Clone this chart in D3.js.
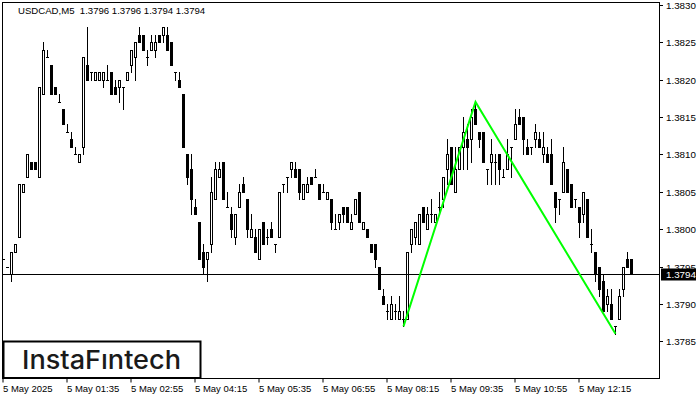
<!DOCTYPE html>
<html><head><meta charset="utf-8">
<script src="https://cdn.jsdelivr.net/npm/d3@7"></script>
<style>body{margin:0;background:#fff;overflow:hidden}svg{display:block}</style>
</head><body>
<svg id="c" width="700" height="400"></svg>
<script>
const symbol = "USDCAD,M5";
const opens = [1.3796,1.3795,1.3794,1.3797,1.3799,1.3805,1.3807,1.3809,1.3809,1.3807,
1.3818,1.3823,1.3822,1.3819,1.3817,1.3816,1.3813,1.3812,1.3810,1.3809,
1.3811,1.3822,1.3821,1.3820,1.3820,1.3820,1.3820,1.3821,1.3819,1.3819,
1.3819,1.3820,1.3822,1.3823,1.3826,1.3826,1.3823,1.3824,1.3824,1.3826,
1.3826,1.3826,1.3825,1.3821,1.3820,1.3818,1.3810,1.3808,1.3803,1.3801,
1.3797,1.3796,1.3798,1.3804,1.3807,1.3809,1.3803,1.3802,1.3799,1.3803,
1.3806,1.3804,1.3799,1.3799,1.3796,1.3801,1.3799,1.3800,1.3798,1.3799,
1.3806,1.3807,1.3808,1.3808,1.3808,1.3804,1.3805,1.3807,1.3807,1.3806,
1.3805,1.3804,1.3804,1.3800,1.3801,1.3803,1.3803,1.3800,1.3802,1.3805,
1.3800,1.3800,1.3798,1.3798,1.3795,1.3791,1.3789,1.3788,1.3789,1.3788,
1.3788,1.3788,1.3798,1.3799,1.3798,1.3803,1.3800,1.3802,1.3801,1.3803,
1.3804,1.3808,1.3811,1.3805,1.3808,1.3811,1.3812,1.3812,1.3816,1.3813,
1.3813,1.3808,1.3809,1.3809,1.3810,1.3807,1.3808,1.3811,1.3812,1.3815,
1.3815,1.3811,1.3811,1.3812,1.3812,1.3810,1.3810,1.3810,1.3805,1.3804,
1.3805,1.3808,1.3806,1.3804,1.3803,1.3802,1.3804,1.3798,1.3797,1.3795,
1.3793,1.3790,1.3790,1.3787,1.3788,1.3792,1.3796,1.3796];
const highs = [1.3796,1.3795,1.3797,1.3798,1.3806,1.3806,1.3810,1.3809,1.3809,1.3819,
1.3825,1.3824,1.3822,1.3819,1.3818,1.3816,1.3814,1.3813,1.3811,1.3810,
1.3823,1.3827,1.3821,1.3821,1.3821,1.3821,1.3822,1.3821,1.3820,1.3820,
1.3819,1.3821,1.3824,1.3825,1.3827,1.3826,1.3824,1.3826,1.3826,1.3826,
1.3827,1.3827,1.3825,1.3821,1.3821,1.3818,1.3810,1.3810,1.3804,1.3801,
1.3798,1.3797,1.3807,1.3809,1.3809,1.3809,1.3805,1.3803,1.3802,1.3806,
1.3807,1.3804,1.3802,1.3800,1.3800,1.3801,1.3800,1.3801,1.3798,1.3805,
1.3806,1.3807,1.3809,1.3809,1.3808,1.3806,1.3807,1.3807,1.3808,1.3806,
1.3806,1.3805,1.3804,1.3802,1.3802,1.3803,1.3803,1.3802,1.3804,1.3805,
1.3801,1.3800,1.3798,1.3798,1.3795,1.3792,1.3790,1.3791,1.3790,1.3791,
1.3789,1.3797,1.3800,1.3801,1.3802,1.3803,1.3803,1.3804,1.3802,1.3805,
1.3807,1.3812,1.3811,1.3811,1.3811,1.3815,1.3814,1.3816,1.3817,1.3813,
1.3813,1.3808,1.3812,1.3810,1.3810,1.3808,1.3812,1.3811,1.3816,1.3816,
1.3815,1.3812,1.3811,1.3814,1.3813,1.3813,1.3811,1.3812,1.3805,1.3804,
1.3811,1.3808,1.3806,1.3804,1.3803,1.3805,1.3804,1.3800,1.3797,1.3795,
1.3794,1.3792,1.3792,1.3787,1.3792,1.3795,1.3797,1.3796];
const lows = [1.3796,1.3795,1.3793,1.3797,1.3799,1.3805,1.3807,1.3808,1.3808,1.3807,
1.3818,1.3823,1.3818,1.3818,1.3817,1.3814,1.3813,1.3811,1.3810,1.3809,
1.3810,1.3820,1.3820,1.3820,1.3820,1.3819,1.3820,1.3818,1.3818,1.3817,
1.3816,1.3820,1.3821,1.3820,1.3825,1.3824,1.3822,1.3824,1.3823,1.3825,
1.3825,1.3824,1.3822,1.3820,1.3819,1.3811,1.3806,1.3802,1.3802,1.3796,
1.3794,1.3793,1.3797,1.3804,1.3807,1.3804,1.3803,1.3799,1.3798,1.3803,
1.3805,1.3799,1.3799,1.3797,1.3796,1.3798,1.3798,1.3799,1.3797,1.3799,
1.3805,1.3805,1.3807,1.3807,1.3804,1.3804,1.3805,1.3806,1.3807,1.3804,
1.3805,1.3804,1.3800,1.3800,1.3800,1.3801,1.3801,1.3800,1.3802,1.3801,
1.3800,1.3799,1.3797,1.3795,1.3792,1.3790,1.3788,1.3788,1.3788,1.3788,
1.3787,1.3788,1.3797,1.3798,1.3798,1.3801,1.3800,1.3801,1.3801,1.3802,
1.3803,1.3806,1.3806,1.3805,1.3808,1.3808,1.3808,1.3809,1.3814,1.3811,
1.3809,1.3806,1.3806,1.3806,1.3806,1.3807,1.3808,1.3807,1.3812,1.3814,
1.3810,1.3810,1.3810,1.3811,1.3811,1.3809,1.3809,1.3806,1.3801,1.3802,
1.3805,1.3805,1.3803,1.3803,1.3799,1.3801,1.3799,1.3797,1.3793,1.3791,
1.3789,1.3789,1.3788,1.3786,1.3788,1.3791,1.3795,1.3794];
const closes = [1.3796,1.3795,1.3797,1.3798,1.3806,1.3806,1.3810,1.3808,1.3808,1.3819,
1.3824,1.3823,1.3818,1.3818,1.3817,1.3814,1.3813,1.3811,1.3810,1.3810,
1.3823,1.3820,1.3821,1.3821,1.3821,1.3821,1.3820,1.3818,1.3818,1.3820,
1.3819,1.3821,1.3824,1.3825,1.3825,1.3824,1.3823,1.3825,1.3825,1.3825,
1.3827,1.3824,1.3822,1.3821,1.3819,1.3811,1.3807,1.3804,1.3802,1.3796,
1.3795,1.3797,1.3805,1.3808,1.3808,1.3804,1.3803,1.3800,1.3802,1.3805,
1.3805,1.3800,1.3800,1.3797,1.3800,1.3798,1.3799,1.3799,1.3798,1.3805,
1.3806,1.3807,1.3809,1.3807,1.3805,1.3806,1.3806,1.3806,1.3807,1.3804,
1.3805,1.3805,1.3801,1.3800,1.3802,1.3802,1.3801,1.3801,1.3804,1.3801,
1.3801,1.3799,1.3797,1.3796,1.3792,1.3790,1.3789,1.3790,1.3789,1.3789,
1.3788,1.3797,1.3800,1.3801,1.3802,1.3801,1.3802,1.3802,1.3802,1.3803,
1.3807,1.3810,1.3806,1.3808,1.3811,1.3813,1.3811,1.3815,1.3814,1.3812,
1.3809,1.3808,1.3810,1.3809,1.3808,1.3807,1.3810,1.3811,1.3814,1.3814,
1.3812,1.3810,1.3811,1.3813,1.3811,1.3811,1.3809,1.3806,1.3803,1.3804,
1.3809,1.3805,1.3803,1.3804,1.3801,1.3805,1.3799,1.3798,1.3794,1.3792,
1.3789,1.3791,1.3788,1.3787,1.3791,1.3795,1.3795,1.3794];
const timeTickIdx = [0,16,32,48,64,80,96,112,128,144];
const timeTickLabels = ["5 May 2025","5 May 01:35","5 May 02:55","5 May 04:15","5 May 05:35","5 May 06:55","5 May 08:15","5 May 09:35","5 May 10:55","5 May 12:15"];
const priceTicks = [1.3785,1.3790,1.3795,1.3800,1.3805,1.3810,1.3815,1.3820,1.3825,1.3830];
const patternIdx = [100,118,153];
const patternPrice = [1.3787,1.3817,1.3786];
const lastPrice = 1.3794;

const svg = d3.select("#c");
const L = 2.5, R = 659.5, T = 2.5, B = 378.5;
const y = d3.scaleLinear().domain([1.3785,1.3830]).range([341.3,4.7]);
const x = d3.scaleLinear().domain([0,1]).range([3.5,7.5]);
const py = p => Math.round(y(p)) + 0.5;
const font = "'Liberation Sans', Arial, sans-serif";

svg.append("rect").attr("x",0).attr("y",0).attr("width",700).attr("height",400).attr("fill","#fff");

const g = svg.append("g");
const n = opens.length;
const data = d3.range(n).map(i => ({i, o:opens[i], h:highs[i], l:lows[i], c:closes[i]}));

// wicks
g.selectAll("line.w").data(data).join("line")
  .attr("x1", d => x(d.i)).attr("x2", d => x(d.i))
  .attr("y1", d => py(d.h)-0.5).attr("y2", d => py(d.l)+0.5)
  .attr("stroke","#000").attr("stroke-width",1);

// bodies
data.forEach(d => {
  const yo = py(d.o), yc = py(d.c);
  const cx = x(d.i);
  if (d.o === d.c) {
    g.append("line").attr("x1",cx-1.5).attr("x2",cx+1.5).attr("y1",yo).attr("y2",yo)
      .attr("stroke","#000");
  } else if (d.c > d.o) {
    g.append("rect").attr("x",cx-1).attr("width",2).attr("y",yc).attr("height",yo-yc)
      .attr("fill","#fff").attr("stroke","#000").attr("stroke-width",1);
  } else {
    g.append("rect").attr("x",cx-1.5).attr("width",3).attr("y",yo-0.5).attr("height",yc-yo+1)
      .attr("fill","#000");
  }
});

// last price line
svg.append("line").attr("x1",L).attr("x2",R).attr("y1",py(lastPrice)).attr("y2",py(lastPrice))
  .attr("stroke","#000");

// pattern line
svg.append("path")
  .attr("d", d3.line().x((d,k)=>x(d)).y((d,k)=>y(patternPrice[k]))(patternIdx))
  .attr("fill","none").attr("stroke","#00ff00").attr("stroke-width",2);

// frame
svg.append("rect").attr("x",L).attr("y",T).attr("width",R-L).attr("height",B-T)
  .attr("fill","none").attr("stroke","#000");

// price axis
const pa = svg.append("g");
priceTicks.forEach(p => {
  const yy = py(p);
  pa.append("line").attr("x1",R).attr("x2",R+3.5).attr("y1",yy).attr("y2",yy).attr("stroke","#000");
  pa.append("text").attr("x",666).attr("y",yy+3.5).text(p.toFixed(4))
    .attr("font-family",font).attr("font-size",9.8).attr("fill","#000");
});
// last price box
svg.append("rect").attr("x",661).attr("y",py(lastPrice)-6).attr("width",35).attr("height",12).attr("fill","#000");
svg.append("text").attr("x",666).attr("y",py(lastPrice)+3.5).text(lastPrice.toFixed(4))
  .attr("font-family",font).attr("font-size",9.8).attr("fill","#fff");

// time axis
timeTickIdx.forEach((idx,k) => {
  const xx = x(idx)-0.5;
  svg.append("line").attr("x1",xx).attr("x2",xx).attr("y1",B).attr("y2",B+4).attr("stroke","#000");
  svg.append("text").attr("x",xx).attr("y",391.5).text(timeTickLabels[k])
    .attr("font-family",font).attr("font-size",9.5).attr("fill","#000");
});

// header
svg.append("text").attr("x",18).attr("y",14)
  .text(symbol + "  " + [opens[n-1],highs[n-1],lows[n-1],closes[n-1]].map(v=>v.toFixed(4)).join(" "))
  .attr("font-family",font).attr("font-size",9.6).attr("fill","#000").attr("xml:space","preserve")
  .style("white-space","pre");

// logo
svg.append("rect").attr("x",3.5).attr("y",341.5).attr("width",197).attr("height",36.5)
  .attr("fill","#fff").attr("stroke","#000").attr("stroke-width",2);
svg.append("text").attr("x",22).attr("y",369).text("InstaF\u0131ntech")
  .attr("font-family","Inter, 'Open Sans', sans-serif").attr("font-size",26).attr("font-weight",500)
  .attr("textLength",159).attr("lengthAdjust","spacingAndGlyphs").attr("fill","#1a1a1a");
</script>
</body></html>
